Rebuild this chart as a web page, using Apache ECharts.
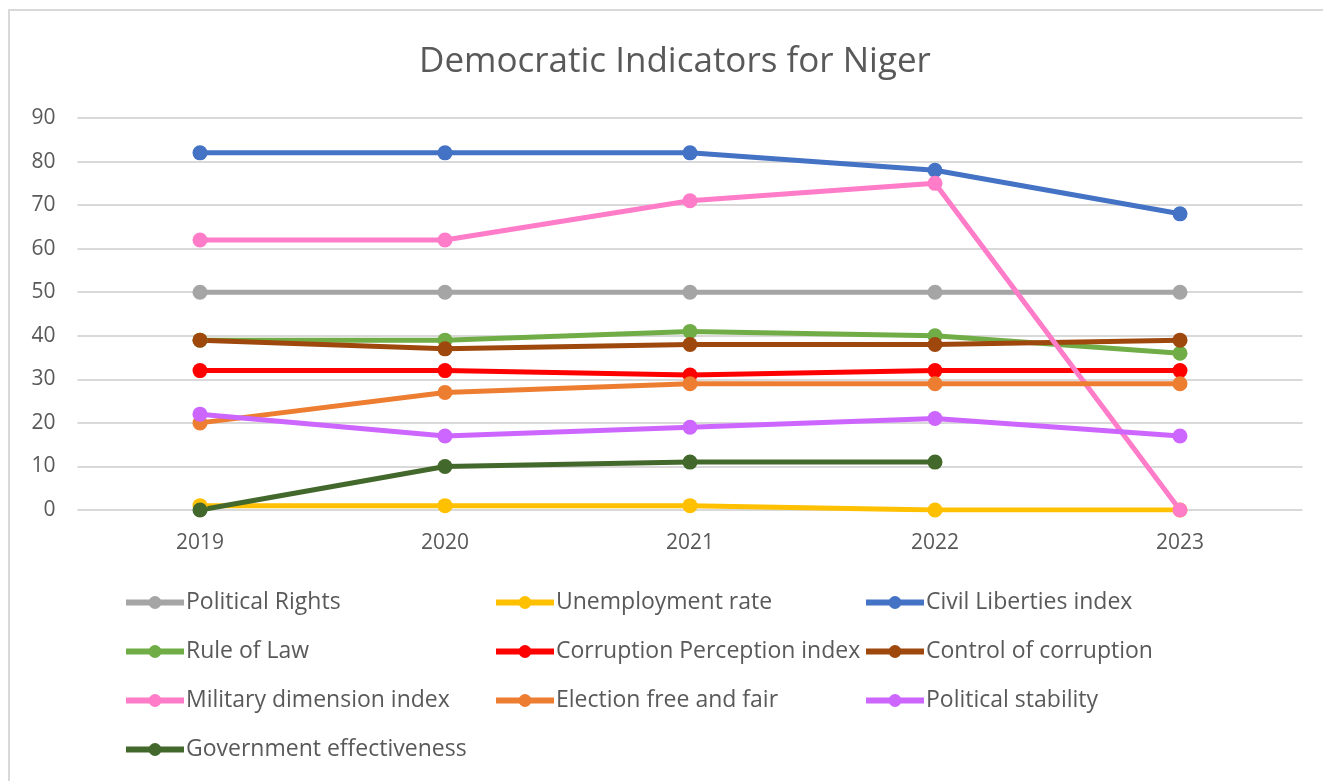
<!DOCTYPE html>
<html>
<head>
<meta charset="utf-8">
<script src="https://cdn.jsdelivr.net/npm/echarts@6/dist/echarts.min.js"></script>
<style>
    html, body { margin: 0; padding: 0; background: #fff; }
    #frame {
        position: absolute; left: 8px; top: 9px; width: 1400px; height: 900px;
        border-left: 2px solid #d9d9d9; border-top: 2px solid #d9d9d9;
    }
    #chart { position: absolute; left: 0; top: 0; width: 1323px; height: 781px; }
</style>
</head>
<body>
<div id="frame"></div>
<div id="chart"></div>
<script>
    // data
    const years = ['2019', '2020', '2021', '2022', '2023'];
    const politicalRights = [50, 50, 50, 50, 50];
    const unemployment = [1, 1, 1, 0, 0];
    const civilLiberties = [82, 82, 82, 78, 68];
    const ruleOfLaw = [39, 39, 41, 40, 36];
    const corruptionPerception = [32, 32, 31, 32, 32];
    const controlOfCorruption = [39, 37, 38, 38, 39];
    const militaryDimension = [62, 62, 71, 75, 0];
    const electionFreeFair = [20, 27, 29, 29, 29];
    const politicalStability = [22, 17, 19, 21, 17];
    const govEffectiveness = [0, 10, 11, 11, null];

    const seriesDefs = [
        {name: 'Political Rights', data: politicalRights, color: '#a5a5a5'},
        {name: 'Unemployment rate', data: unemployment, color: '#ffc000'},
        {name: 'Civil Liberties index', data: civilLiberties, color: '#4472c4'},
        {name: 'Rule of Law', data: ruleOfLaw, color: '#70ad47'},
        {name: 'Corruption Perception index', data: corruptionPerception, color: '#ff0000'},
        {name: 'Control of corruption', data: controlOfCorruption, color: '#9e480e'},
        {name: 'Military dimension index', data: militaryDimension, color: '#ff7cc8'},
        {name: 'Election free and fair', data: electionFreeFair, color: '#ed7d31'},
        {name: 'Political stability', data: politicalStability, color: '#cc66ff'},
        {name: 'Government effectiveness', data: govEffectiveness, color: '#43682b'}
    ];

    const font = '"Open Sans", sans-serif';
    const colX = [123, 493, 863];
    const rowY = [591, 640, 689, 738];

    let legends = seriesDefs.map(function (s, i) {
        return {
            data: [s.name],
            left: colX[i % 3],
            top: rowY[Math.floor(i / 3)],
            itemWidth: 58,
            itemHeight: 16,
            itemGap: 0,
            padding: 0,
            lineStyle: {width: 6},
            textStyle: {color: '#595959', fontSize: 23, fontFamily: font, padding: [0, 0, 0, -3]}
        };
    });

    let option = {
        animation: false,
        title: {
            text: 'Democratic Indicators for Niger',
            left: 414,
            top: 40,
            textStyle: {color: '#595959', fontSize: 35, fontWeight: 'normal', fontFamily: font}
        },
        legend: legends,
        grid: {left: 77.5, right: 20.5, top: 118, bottom: 271},
        xAxis: {
            type: 'category',
            data: years,
            boundaryGap: true,
            axisLine: {show: false},
            axisTick: {show: false},
            axisLabel: {color: '#595959', fontSize: 21, fontFamily: font, margin: 23}
        },
        yAxis: {
            type: 'value',
            min: 0,
            max: 90,
            interval: 10,
            axisLine: {show: false},
            axisTick: {show: false},
            axisLabel: {color: '#595959', fontSize: 21, fontFamily: font, margin: 22},
            splitLine: {lineStyle: {color: '#d9d9d9', width: 2}}
        },
        series: seriesDefs.map(function (s) {
            return {
                name: s.name,
                type: 'line',
                data: s.data,
                symbol: 'circle',
                symbolSize: 15,
                lineStyle: {width: 5, color: s.color},
                itemStyle: {color: s.color},
                emphasis: {disabled: true}
            };
        })
    };

    let myChart = echarts.init(document.getElementById('chart'));
    myChart.setOption(option);
</script>
</body>
</html>
